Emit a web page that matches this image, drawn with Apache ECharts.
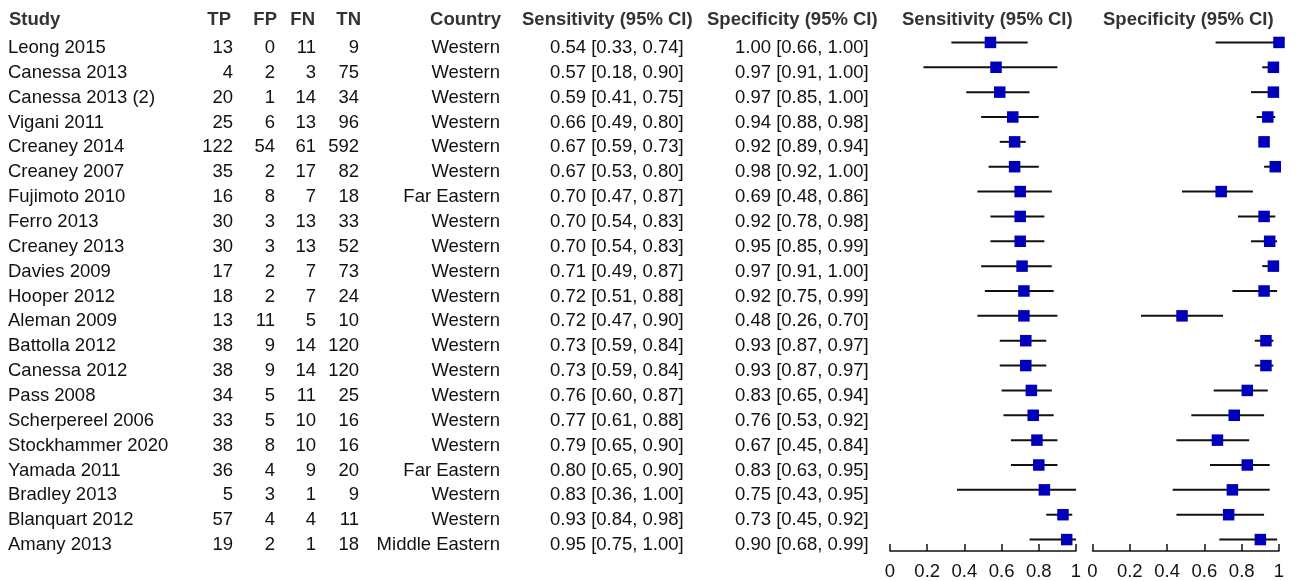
<!DOCTYPE html>
<html>
<head>
<meta charset="utf-8">
<script src="https://cdn.jsdelivr.net/npm/echarts@6/dist/echarts.min.js"></script>
<style>
html,body{margin:0;padding:0;background:#fff;}
#chart{width:1297px;height:581px;}
</style>
</head>
<body>
<div id="chart"></div>
<script>
var studies = ["Leong 2015","Canessa 2013","Canessa 2013 (2)","Vigani 2011","Creaney 2014","Creaney 2007","Fujimoto 2010","Ferro 2013","Creaney 2013","Davies 2009","Hooper 2012","Aleman 2009","Battolla 2012","Canessa 2012","Pass 2008","Scherpereel 2006","Stockhammer 2020","Yamada 2011","Bradley 2013","Blanquart 2012","Amany 2013"];
var TP = [13,4,20,25,122,35,16,30,30,17,18,13,38,38,34,33,38,36,5,57,19];
var FP = [0,2,1,6,54,2,8,3,3,2,2,11,9,9,5,5,8,4,3,4,2];
var FN = [11,3,14,13,61,17,7,13,13,7,7,5,14,14,11,10,10,9,1,4,1];
var TN = [9,75,34,96,592,82,18,33,52,73,24,10,120,120,25,16,16,20,9,11,18];
var countries = ["Western","Western","Western","Western","Western","Western","Far Eastern","Western","Western","Western","Western","Western","Western","Western","Western","Western","Western","Far Eastern","Western","Western","Middle Eastern"];
var sens   = [0.54,0.57,0.59,0.66,0.67,0.67,0.70,0.70,0.70,0.71,0.72,0.72,0.73,0.73,0.76,0.77,0.79,0.80,0.83,0.93,0.95];
var sensLo = [0.33,0.18,0.41,0.49,0.59,0.53,0.47,0.54,0.54,0.49,0.51,0.47,0.59,0.59,0.60,0.61,0.65,0.65,0.36,0.84,0.75];
var sensHi = [0.74,0.90,0.75,0.80,0.73,0.80,0.87,0.83,0.83,0.87,0.88,0.90,0.84,0.84,0.87,0.88,0.90,0.90,1.00,0.98,1.00];
var spec   = [1.00,0.97,0.97,0.94,0.92,0.98,0.69,0.92,0.95,0.97,0.92,0.48,0.93,0.93,0.83,0.76,0.67,0.83,0.75,0.73,0.90];
var specLo = [0.66,0.91,0.85,0.88,0.89,0.92,0.48,0.78,0.85,0.91,0.75,0.26,0.87,0.87,0.65,0.53,0.45,0.63,0.43,0.45,0.68];
var specHi = [1.00,1.00,1.00,0.98,0.94,1.00,0.86,0.98,0.99,1.00,0.99,0.70,0.97,0.97,0.94,0.92,0.84,0.95,0.95,0.92,0.99];
var headers = ["Study","TP","FP","FN","TN","Country","Sensitivity (95% CI)","Specificity (95% CI)","Sensitivity (95% CI)","Specificity (95% CI)"];
var xTicks = [0,0.2,0.4,0.6,0.8,1];

var FONT = '"Liberation Sans", Arial, sans-serif';
var FS = 18.5;

function fmt(v){ return v.toFixed(2); }

var sensData = sens.map(function(v,i){ return [v, sensLo[i], sensHi[i], i]; });
var specData = spec.map(function(v,i){ return [v, specLo[i], specHi[i], i]; });
var rowData = studies.map(function(s,i){ return [0, i]; });

function forestItem(params, api){
  var v = api.value(0), lo = api.value(1), hi = api.value(2), r = api.value(3);
  var pL = api.coord([lo, r]), pH = api.coord([hi, r]), p = api.coord([v, r]);
  var s = 11.5;
  return {
    type: 'group',
    children: [
      {type:'line', shape:{x1:pL[0], y1:pL[1], x2:pH[0], y2:pH[1]}, style:{stroke:'#111', lineWidth:2}},
      {type:'rect', shape:{x:p[0]-s/2, y:p[1]-s/2, width:s, height:s}, style:{fill:'#0000bb'}}
    ]
  };
}

function txt(x, y, t, align, bold, color){
  return {type:'text', x:x, y:y, style:{text:t, x:0, y:0, align:align, verticalAlign:'middle', font:(bold?'bold ':'')+FS+'px '+FONT, fill:color||'#111'}};
}

function rowItem(params, api){
  var i = api.value(1);
  var y = api.coord([0, i])[1] + 5.5;
  return {
    type:'group',
    children:[
      txt(8, y, studies[i], 'left'),
      txt(233, y, String(TP[i]), 'right'),
      txt(275, y, String(FP[i]), 'right'),
      txt(316, y, String(FN[i]), 'right'),
      txt(359, y, String(TN[i]), 'right'),
      txt(500, y, countries[i], 'right'),
      txt(550, y, fmt(sens[i])+' ['+fmt(sensLo[i])+', '+fmt(sensHi[i])+']', 'left'),
      txt(735, y, fmt(spec[i])+' ['+fmt(specLo[i])+', '+fmt(specHi[i])+']', 'left')
    ]
  };
}

var HY = 20;
var hc = '#333';
var graphics = [
  txt(9, HY, headers[0], 'left', true, hc),
  txt(231, HY, headers[1], 'right', true, hc),
  txt(277, HY, headers[2], 'right', true, hc),
  txt(315, HY, headers[3], 'right', true, hc),
  txt(361, HY, headers[4], 'right', true, hc),
  txt(501, HY, headers[5], 'right', true, hc),
  txt(522, HY, headers[6], 'left', true, hc),
  txt(707, HY, headers[7], 'left', true, hc),
  txt(902, HY, headers[8], 'left', true, hc),
  txt(1103, HY, headers[9], 'left', true, hc)
];

function xAxisCfg(idx){
  return {
    type:'value', gridIndex:idx, min:xTicks[0], max:xTicks[xTicks.length-1], interval:0.2,
    axisLine:{show:true, onZero:false, lineStyle:{color:'#111', width:1.5}},
    axisTick:{show:true, inside:true, length:7, lineStyle:{color:'#111', width:1.5}},
    axisLabel:{show:true, margin:11, fontFamily:FONT, fontSize:FS, color:'#111',
      formatter:function(v){ return String(Math.round(v*10)/10); }},
    splitLine:{show:false}
  };
}
function yAxisCfg(idx){
  return {type:'value', gridIndex:idx, inverse:true, min:-0.5, max:20.46, show:false, splitLine:{show:false}};
}

var chart = echarts.init(document.getElementById('chart'), null, {renderer:'canvas'});
chart.setOption({
  animation:false,
  backgroundColor:'#fff',
  grid:[
    {left:890, top:30, width:186, height:524},
    {left:1092.5, top:30, width:186.5, height:524}
  ],
  xAxis:[xAxisCfg(0), xAxisCfg(1)],
  yAxis:[yAxisCfg(0), yAxisCfg(1)],
  graphic: graphics,
  series:[
    {type:'custom', xAxisIndex:0, yAxisIndex:0, data:rowData, renderItem:rowItem, clip:false, silent:true},
    {type:'custom', xAxisIndex:0, yAxisIndex:0, data:sensData, renderItem:forestItem, clip:false, silent:true},
    {type:'custom', xAxisIndex:1, yAxisIndex:1, data:specData, renderItem:forestItem, clip:false, silent:true}
  ]
});
</script>
</body>
</html>
